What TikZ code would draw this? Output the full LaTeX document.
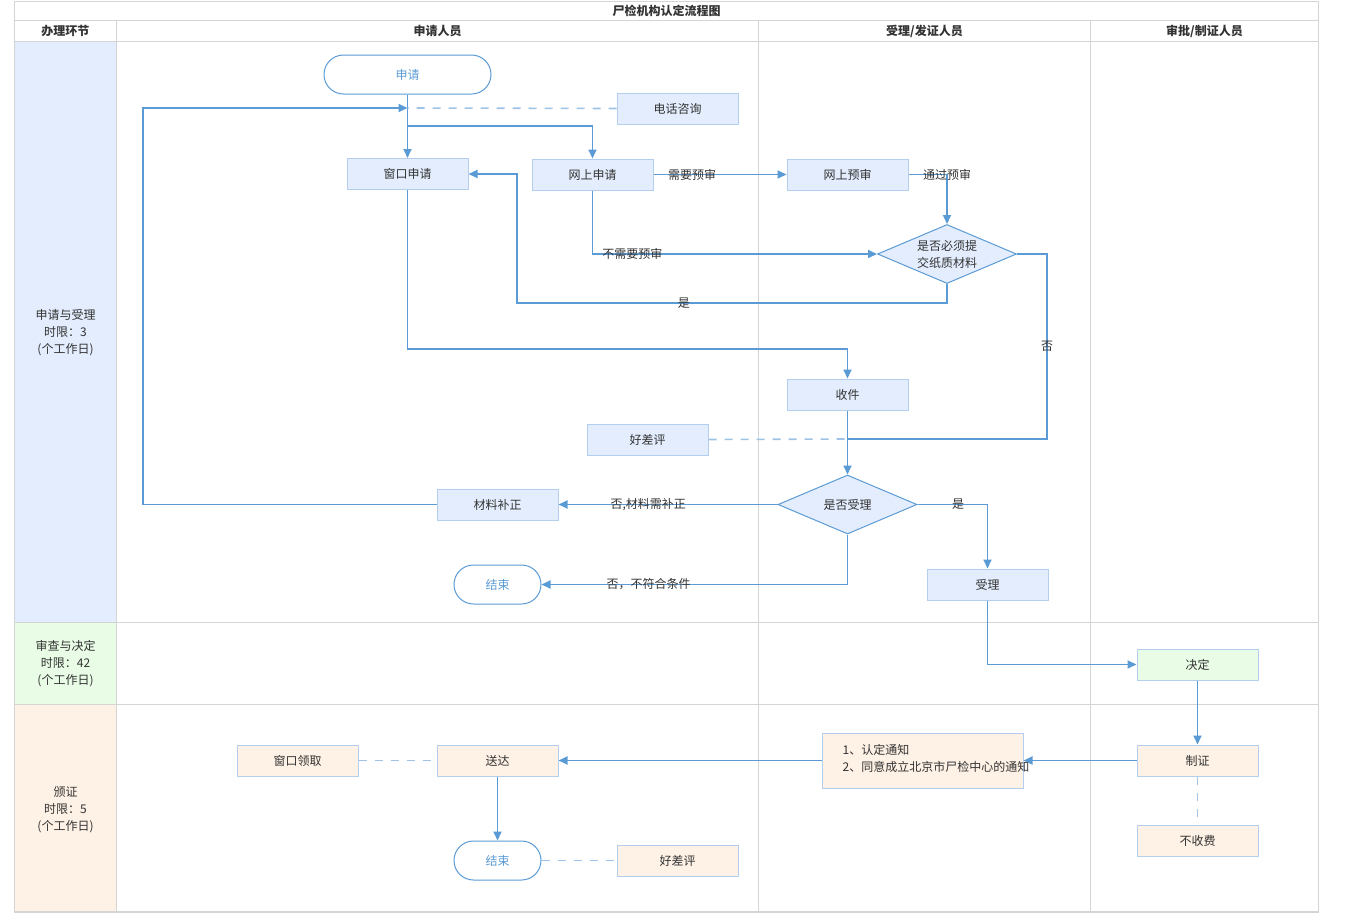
\documentclass[tikz,border=0pt]{standalone}
\usepackage{fontspec}
\setmainfont{Noto Sans CJK SC}
\usetikzlibrary{arrows.meta,shapes.geometric,shapes.misc,calc}
\definecolor{flow}{HTML}{5B9BD5}
\definecolor{dashc}{HTML}{9DC3E6}
\definecolor{bfill}{HTML}{E3EDFD}
\definecolor{gfill}{HTML}{E8FCE6}
\definecolor{ofill}{HTML}{FEF1E5}
\definecolor{bline}{HTML}{B4CEF0}
\definecolor{grid}{HTML}{D4D4D4}
\definecolor{txt}{HTML}{333333}
\begin{document}
\begin{tikzpicture}[x=1pt,y=-1pt,
  every node/.style={font=\fontsize{12}{17}\selectfont, text=txt},
  box/.style={draw=bline, line width=1pt, fill=bfill, minimum width=121, minimum height=31, inner sep=0},
  gbox/.style={box, fill=gfill},
  obox/.style={box, fill=ofill},
  term/.style={rounded rectangle, draw=flow, line width=1pt, fill=white, minimum width=87, minimum height=39, inner sep=0, text=flow},
  dia/.style={diamond, draw=flow, line width=1pt, fill=bfill, aspect=2.36, minimum width=139, minimum height=59, inner sep=0, align=center},
  arr/.style={draw=flow, line width=1.8pt, -{Triangle[length=9pt,width=8pt]}},
  flowline/.style={draw=flow, line width=1.8pt},
  dashline/.style={draw=dashc, line width=1.6pt, dash pattern=on 8pt off 8pt},
  lbl/.style={inner sep=0, text=txt},
  gridline/.style={draw=grid, line width=1.6pt},
  lane/.style={align=center, text=txt}
]
\useasboundingbox (0,0) rectangle (1350,914);
% lane fills
\fill[bfill] (15,42) rectangle (116,622);
\fill[gfill] (15,623) rectangle (116,704);
\fill[ofill] (15,705) rectangle (116,912);
% grid
\draw[gridline] (14.5,1.5) rectangle (1318.5,912);
\draw[gridline] (14.5,20.5) -- (1318.5,20.5);
\draw[gridline] (14.5,41.5) -- (1318.5,41.5);
\draw[gridline] (14.5,622.5) -- (1318.5,622.5);
\draw[gridline] (14.5,704.5) -- (1318.5,704.5);
\draw[gridline] (116.5,20.5) -- (116.5,912);
\draw[gridline] (758.5,20.5) -- (758.5,912);
\draw[gridline] (1090.5,20.5) -- (1090.5,912);
% titles
\node[font=\fontsize{12}{14}\selectfont\bfseries] (title) at (666.5,11) {尸检机构认定流程图};
\node[font=\fontsize{12}{14}\selectfont\bfseries] (h1) at (65.5,31) {办理环节};
\node[font=\fontsize{12}{14}\selectfont\bfseries] (h2) at (437.5,31) {申请人员};
\node[font=\fontsize{12}{14}\selectfont\bfseries] (h3) at (924.5,31) {受理/发证人员};
\node[font=\fontsize{12}{14}\selectfont\bfseries] (h4) at (1204.5,31) {审批/制证人员};
\node[lane] (l1) at (65.5,333) {申请与受理\\时限：3\\(个工作日)};
\node[lane] (l2) at (65.5,664) {审查与决定\\时限：42\\(个工作日)};
\node[lane] (l3) at (65.5,810) {颁证\\时限：5\\(个工作日)};
% nodes
\node[term, minimum width=167] (apply) at (407.5,74.5) {申请};
\node[box] (phone) at (677.5,108.5) {电话咨询};
\node[box] (win) at (407.5,174) {窗口申请};
\node[box] (web) at (592.5,174.5) {网上申请};
\node[box] (pre) at (847.5,174.5) {网上预审};
\node[dia] (d1) at (947,254) {是否必须提\\交纸质材料};
\node[box] (recv) at (847.5,394.5) {收件};
\node[box] (eval1) at (647.5,439.5) {好差评};
\node[dia] (d2) at (847.5,504.5) {是否受理};
\node[box] (fix) at (497.5,504.5) {材料补正};
\node[term] (end1) at (497.5,584.5) {结束};
\node[box] (acc) at (987.5,584.5) {受理};
\node[gbox] (dec) at (1197.5,664.5) {决定};
\node[obox] (make) at (1197.5,760.5) {制证};
\node[obox] (nofee) at (1197.5,840.5) {不收费};
\node[obox, minimum width=201, minimum height=55] (notice) at (922.5,760.5) {};
\node[anchor=west, align=left, inner sep=0] (noticetext) at ($(notice.west)+(21,-2)$) {1、认定通知\\2、同意成立北京市尸检中心的通知};
\node[obox] (send) at (497.5,760.5) {送达};
\node[obox] (pick) at (297.5,760.5) {窗口领取};
\node[term] (end2) at (497.5,860.5) {结束};
\node[obox] (eval2) at (677.5,860.5) {好差评};
% coordinates
\coordinate (j0) at (407.5,108);
\coordinate (j1) at (407.5,126);
\coordinate (lx) at (143,504.5);
\coordinate (yb) at (517,303);
\coordinate (nc) at (1047,439);
\coordinate (jc) at (847.5,439);
\coordinate (wd) at (407.5,349);
% connectors
\draw[arr] (apply.south) -- (win.north);
\draw[arr] (j1) -| (web.north);
\draw[arr] (fix.west) -- (lx) |- (j0);
\draw[dashline] (phone.west) -- (j0);
\draw[arr] (web.east) -- node[lbl, pos=0.29]{需要预审} (pre.west);
\draw[arr] (pre.east) -| node[lbl, pos=0.5]{通过预审} (d1.north);
\draw[arr] (web.south) |- node[lbl, pos=0.57]{不需要预审} (d1.west);
\draw[arr] (d1.south) |- node[lbl, pos=0.806]{是} (yb) |- (win.east);
\draw[flowline] (d1.east) -| node[lbl, pos=0.75]{否} (nc) -- (jc);
\draw[arr] (win.south) -- (wd) -| (recv.north);
\draw[arr] (recv.south) -- (d2.north);
\draw[dashline] (eval1.east) -- (jc);
\draw[arr] (d2.west) -- node[lbl, pos=0.59]{否,材料需补正} (fix.east);
\draw[arr] (d2.east) -| node[lbl, pos=0.29]{是} (acc.north);
\draw[arr] (d2.south) |- node[lbl, pos=0.825]{否，不符合条件} (end1.east);
\draw[arr] (acc.south) |- (dec.west);
\draw[arr] (dec.south) -- (make.north);
\draw[arr] (make.west) -- (notice.east);
\draw[arr] (notice.west) -- (send.east);
\draw[arr] (send.south) -- (end2.north);
\draw[dashline] (pick.east) -- (send.west);
\draw[dashline] (end2.east) -- (eval2.west);
\draw[dashline] (make.south) -- (nofee.north);
\end{tikzpicture}
\end{document}
